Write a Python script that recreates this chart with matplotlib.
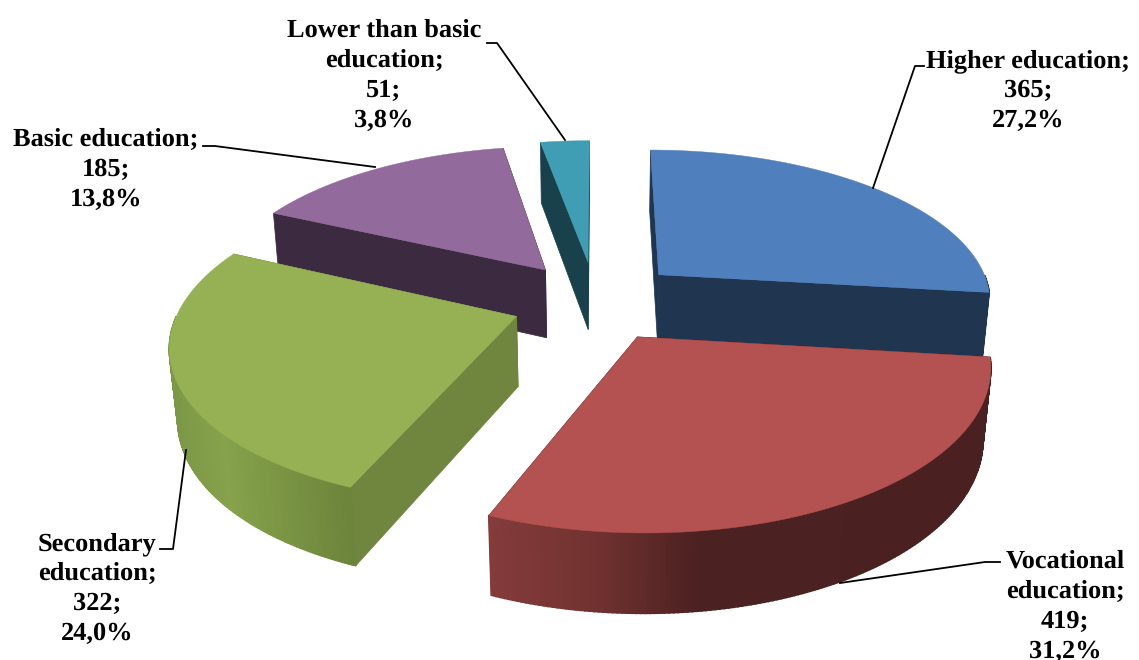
import numpy as np
import matplotlib
matplotlib.use('Agg')
import matplotlib.pyplot as plt
from matplotlib.colors import to_rgb

plt.rcParams['text.hinting'] = 'no_hinting'

categories = ['Higher education', 'Vocational education', 'Secondary education',
              'Basic education', 'Lower than basic education']
values = [365, 419, 322, 185, 51]
percents = ['27,2%', '31,2%', '24,0%', '13,8%', '3,8%']
name_lines = [['Higher education;'], ['Vocational', 'education;'], ['Secondary', 'education;'],
              ['Basic education;'], ['Lower than basic', 'education;']]

top_colors = ['#4F7FBC', '#B35250', '#95B154', '#926A9B', '#3F9DB4']
cut_colors = ['#1F3550', '#4A2020', '#70853E', '#3B2A40', '#19414B']
# outer wall shading, left to right: position in the slice width and colour
wall_pos = [[0, 1], [0, 0.22, 0.42, 1], [0, 0.3, 1], [0, 1], [0, 1]]
wall_cols = [['#1F3550', '#1F3550'],
             ['#853B3B', '#703230', '#4C2121', '#4A2020'],
             ['#7C9846', '#86A24B', '#6C843B'],
             ['#3B2A40', '#3B2A40'],
             ['#19414B', '#19414B']]
draw_order = [4, 3, 0, 2, 1]

# first line of each label (top of the block, centred on x) and leader lines, in pixels
label_xy = [(1028, 49), (1065, 550), (97, 532), (106, 128), (384, 19)]
leaders = [[(924, 66), (915, 66), (873, 188)],
           [(1000, 562), (985, 562), (840, 583)],
           [(160, 549), (173, 549), (186, 450)],
           [(203, 146), (215, 146), (375, 167)],
           [(487, 43), (497, 43), (565, 140)]]

# camera, tuned by eye
cx, cy = 598, 300
f = 1880
dist = 5.62
elev = np.radians(27)
explode = 0.26
height = 0.237
# small corrections per slice, pie radius = 1
nudge_u = [-0.01, 0, 0.01, 0, 0]
nudge_v = [0, 0, -0.033, 0, 0]
# Excel does not place the slice edges quite where a true circle would
warp_deg = [0, 98, 180, 210, 297, 346.4, 360]
warp_off = [0, -1, -5, -8, -1.5, 3.6, 0]


def warp(a):
    d = np.degrees(a)
    return np.radians(d + np.interp(d, warp_deg, warp_off))


def project(u, v, z):
    u = np.asarray(u, float)
    v = np.asarray(v, float)
    yc = v * np.sin(elev) + z * np.cos(elev)
    zc = dist + v * np.cos(elev) - z * np.sin(elev)
    return cx + f * u / zc, cy - f * yc / zc


fig = plt.figure(figsize=(11.39, 6.60), dpi=100)
ax = fig.add_axes([0, 0, 1, 1])
ax.set_xlim(0, 1139)
ax.set_ylim(660, 0)
ax.axis('off')

fracs = np.array(values) / sum(values)
edges = np.concatenate([[0], np.cumsum(fracs)]) * 2 * np.pi

for n, i in enumerate(draw_order):
    a0, a1 = warp(edges[i]), warp(edges[i + 1])
    mid = (edges[i] + edges[i + 1]) / 2
    u0 = explode * np.sin(mid) + nudge_u[i]
    v0 = explode * np.cos(mid) + nudge_v[i]
    th = np.linspace(a0, a1, 160)
    u = u0 + np.sin(th)
    v = v0 + np.cos(th)

    # two cut faces
    for a in (a0, a1):
        us = [u0, u0 + np.sin(a)]
        vs = [v0, v0 + np.cos(a)]
        xt, yt = project(us, vs, 0)
        xb, yb = project(us, vs, -height)
        ax.fill([xt[0], xt[1], xb[1], xb[0]], [yt[0], yt[1], yb[1], yb[0]],
                color=cut_colors[i], lw=0.5, zorder=n + 1)

    # outer wall, shaded strip by strip, only the part facing the viewer
    xt, yt = project(u, v, 0)
    xb, yb = project(u, v, -height)
    rgb = np.array([to_rgb(c) for c in wall_cols[i]])
    lo, hi = xt.min(), xt.max()
    for k in range(len(th) - 1):
        if np.cos(th[k]) > 0:
            continue
        t = (xt[k] - lo) / (hi - lo)
        col = [np.interp(t, wall_pos[i], rgb[:, c]) for c in range(3)]
        ax.fill([xt[k], xt[k + 1], xb[k + 1], xb[k]], [yt[k], yt[k + 1], yb[k + 1], yb[k]],
                color=col, lw=1.2, zorder=n + 1.1)

    # top face
    xa, ya = project([u0], [v0], 0)
    ax.fill(np.r_[xa, xt], np.r_[ya, yt], color=top_colors[i], lw=0.3, zorder=n + 1.5)

for i in range(len(categories)):
    lines = name_lines[i] + ['%d;' % values[i], percents[i]]
    ax.text(label_xy[i][0], label_xy[i][1], '\n'.join(lines), ha='center', va='top',
            family='Liberation Serif', fontweight='bold', fontsize=19, color='black',
            linespacing=1.36, zorder=20)
    ax.plot([p[0] for p in leaders[i]], [p[1] for p in leaders[i]], color='black', lw=1.3, zorder=19)

fig.savefig('out.png', dpi=100)
